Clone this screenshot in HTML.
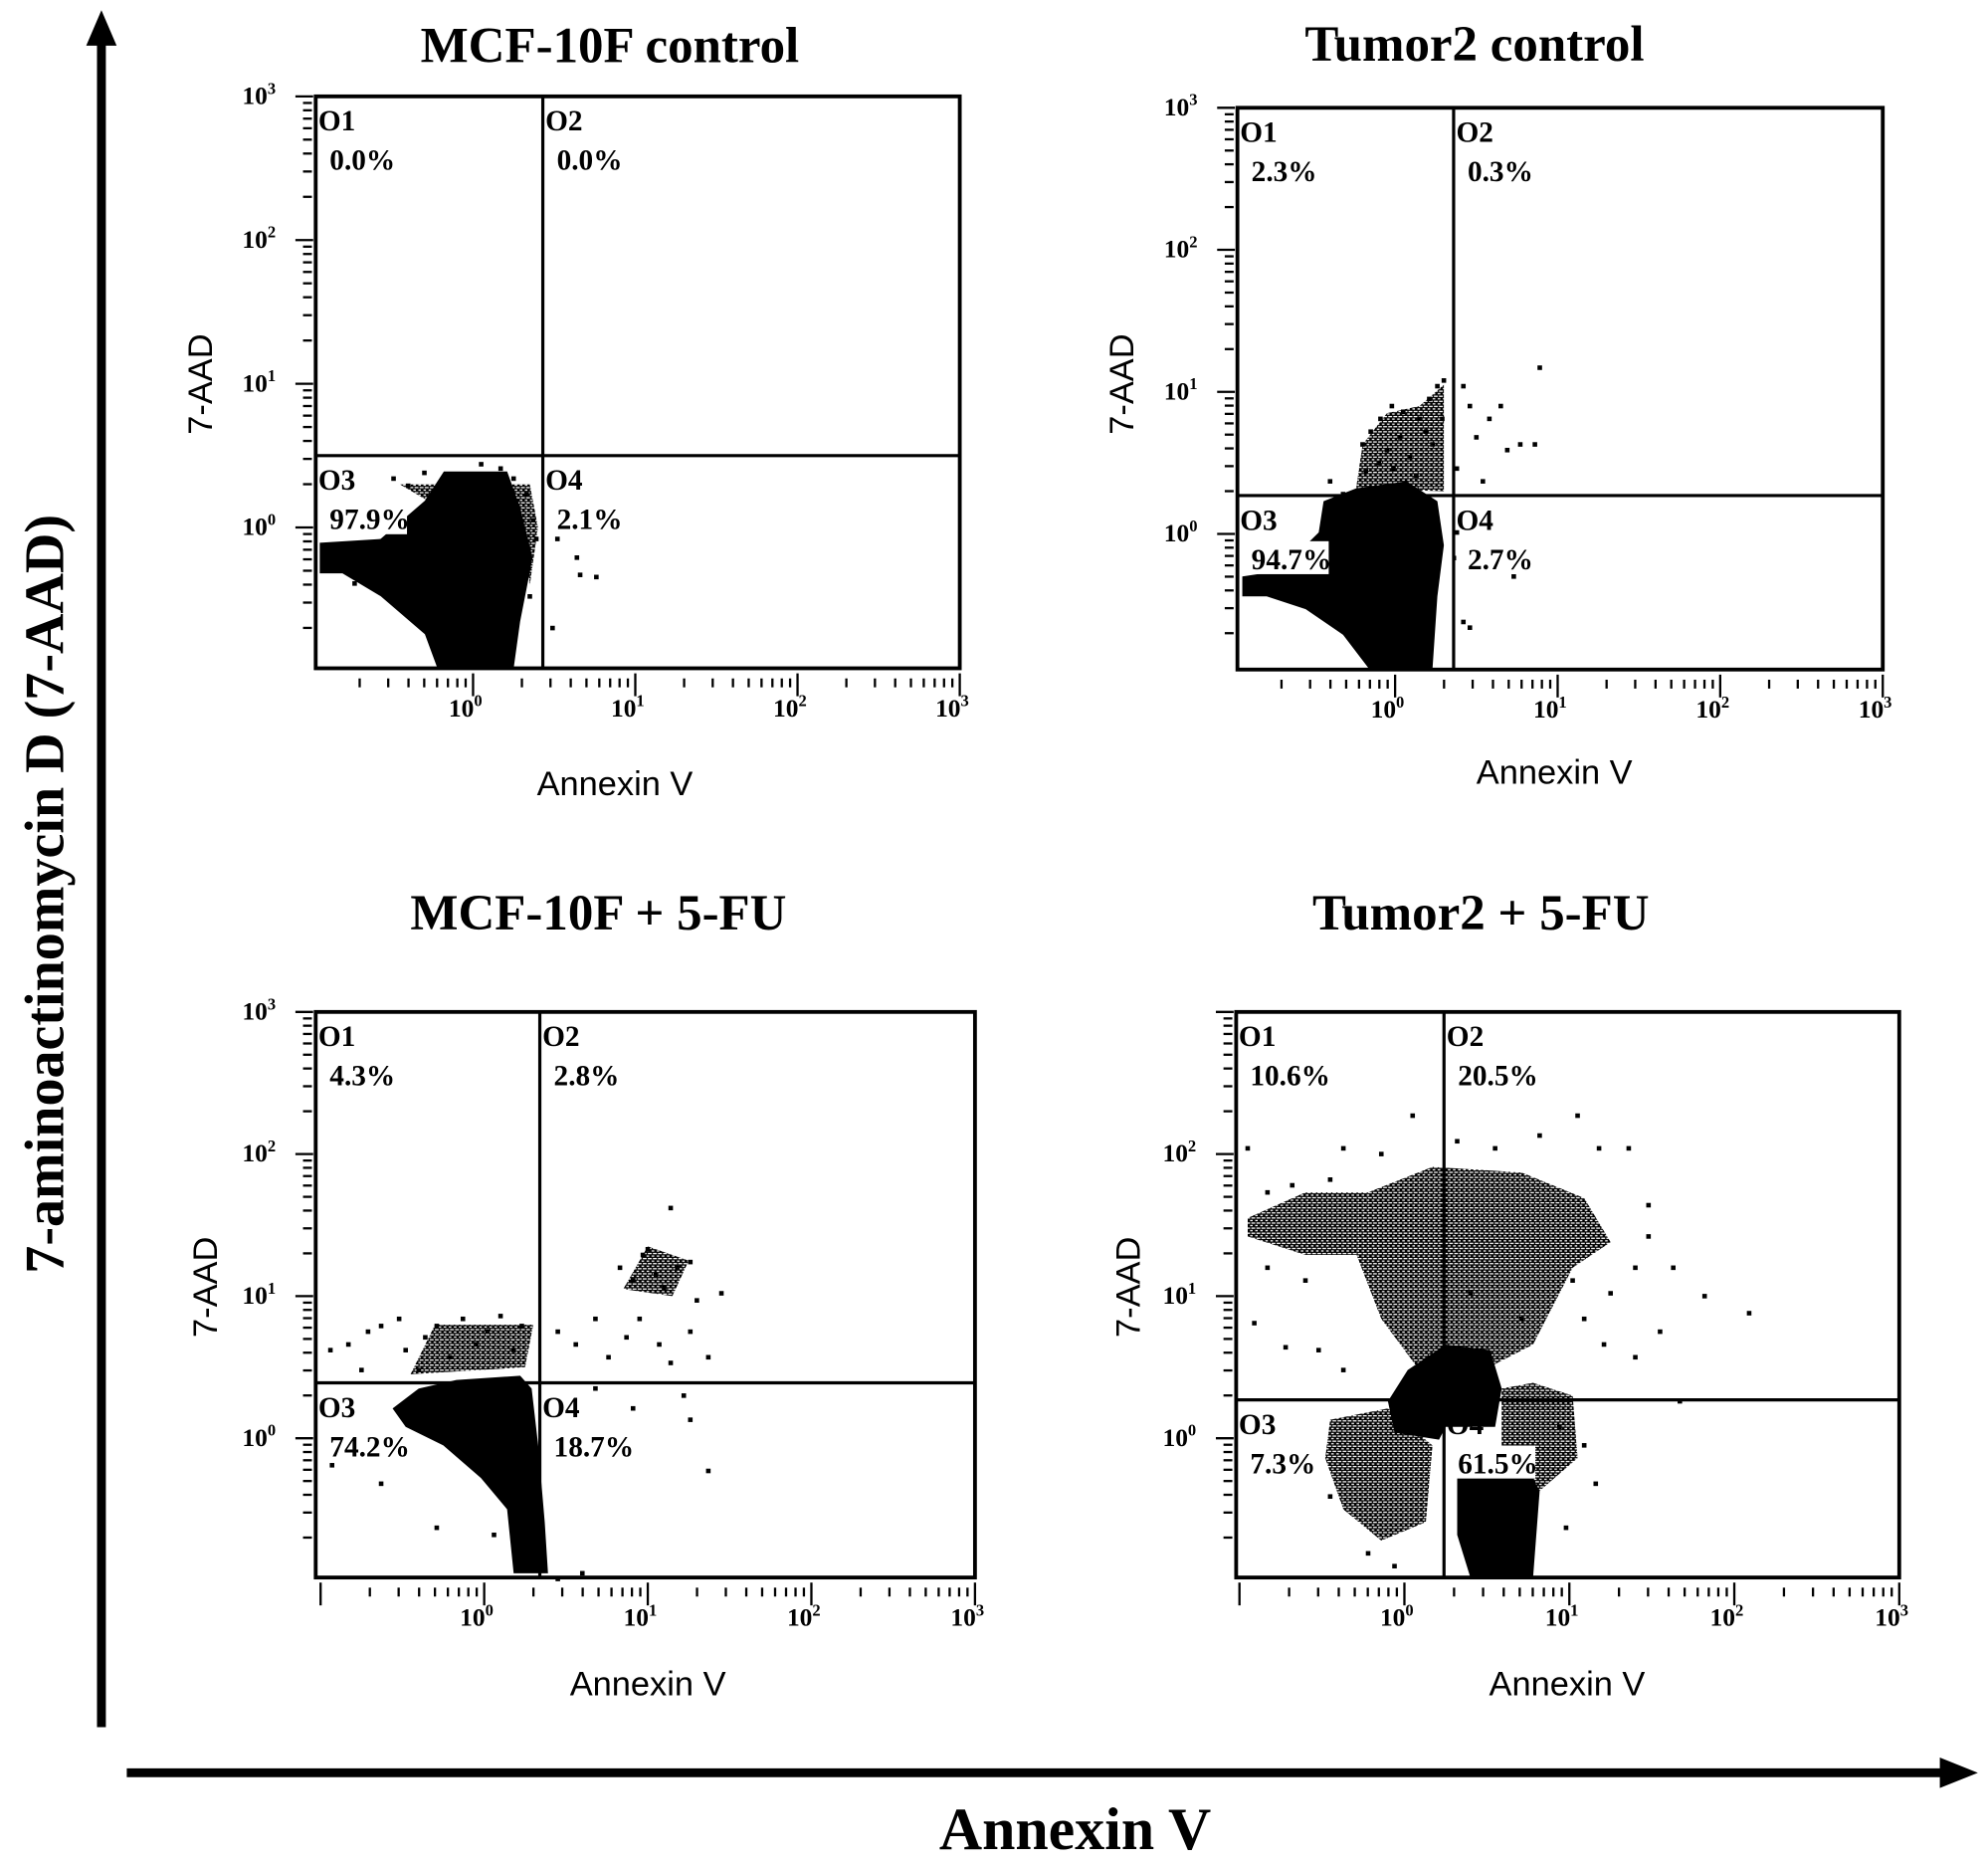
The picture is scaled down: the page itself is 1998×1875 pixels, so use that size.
<!DOCTYPE html>
<html><head><meta charset="utf-8">
<style>
html,body{margin:0;padding:0;background:#fff;}
svg{display:block;}
.t{font-family:"Liberation Serif",serif;font-weight:bold;}
.s{font-family:"Liberation Sans",sans-serif;}
</style></head>
<body>
<svg id="fig" width="1998" height="1875" viewBox="0 0 1568 1471.5" preserveAspectRatio="none" xmlns="http://www.w3.org/2000/svg">
  <rect x="0" y="0" width="1568" height="1471.5" fill="#fff"/>
  <g>
    <line x1="80" y1="1362" x2="80" y2="34" stroke="#000" stroke-width="7"/>
    <polygon points="80,8 68,36 92,36" fill="#000"/>
  </g>
  <g>
    <line x1="100" y1="1398" x2="1534" y2="1398" stroke="#000" stroke-width="7"/>
    <polygon points="1560,1398 1530,1386 1530,1410" fill="#000"/>
  </g>
  <text class="t" font-size="44" text-anchor="middle" transform="translate(50,705) rotate(-90)">7-aminoactinomycin D (7-AAD)</text>
  <text class="t" font-size="47" text-anchor="middle" x="848" y="1458">Annexin V</text>
  <defs>
    <pattern id="speck" width="4" height="4" patternUnits="userSpaceOnUse">
      <rect x="0" y="0" width="4" height="4" fill="#000"/>
      <rect x="0" y="0" width="2" height="1" fill="#fff"/>
      <rect x="2" y="2" width="2" height="1" fill="#fff"/>
      <rect x="3" y="0" width="1" height="1" fill="#fff"/>
    </pattern>
  </defs>
  <g id="panels"></g>
</svg>
<script>
// ---- data (log10 units of Annexin V and 7-AAD) ----
const titles = ["MCF-10F control", "Tumor2 control", "MCF-10F + 5-FU", "Tumor2 + 5-FU"];
const quadrantNames = ["O1", "O2", "O3", "O4"];
const p1Percents = ["0.0%", "0.0%", "97.9%", "2.1%"];
const p2Percents = ["2.3%", "0.3%", "94.7%", "2.7%"];
const p3Percents = ["4.3%", "2.8%", "74.2%", "18.7%"];
const p4Percents = ["10.6%", "20.5%", "7.3%", "61.5%"];
const gateAnnexin = [0.43, 0.36, 0.34, 0.24];
const gateAAD = [0.50, 0.27, 0.39, 0.27];
const decadeLabels = ["0", "1", "2", "3"];

const p1DotX = [0.52,0.64,0.76,0.66,0.49,-0.49,-0.40,-0.10,0.17,0.25,0.33,0.37,0.39,0.35,0.21,-0.65,-0.73,-0.30,0.05];
const p1DotY = [-0.08,-0.21,-0.345,-0.33,-0.70,0.34,0.29,0.35,0.41,0.34,0.23,0.05,-0.08,-0.48,-0.88,-0.21,-0.39,0.38,0.44];
const p1Solid = [
  [[-0.945,-0.106],[-0.57,-0.08],[-0.297,0.186],[-0.18,0.39],[0.21,0.39],[0.29,0.14],[0.367,-0.21],[0.29,-0.655],[0.25,-0.982],[-0.219,-0.982],[-0.297,-0.743],[-0.57,-0.478],[-0.805,-0.319],[-0.945,-0.319]]
];
const p1Speckle = [
  [[-0.45,0.30],[0.35,0.30],[0.40,0.00],[0.35,-0.40],[0.30,0.10],[-0.30,0.20]]
];

const p2DotX = [-0.20,-0.15,-0.09,-0.02,0.03,0.09,0.15,0.21,0.26,0.30,-0.10,-0.01,0.13,0.23,-0.18,-0.05,0.05,0.19,0.29,-0.32,-0.40,0.42,0.46,0.58,0.65,0.77,0.86,0.89,0.50,0.38,0.54,0.69,0.38,0.50,0.61,0.73,0.42,0.46,0.38];
const p2DotY = [0.63,0.72,0.81,0.90,0.68,0.54,0.81,0.95,1.04,1.08,0.50,0.46,0.41,0.63,0.44,0.59,0.86,0.72,0.81,0.28,0.37,1.04,0.90,0.81,0.90,0.63,0.63,1.17,0.68,0.46,0.37,0.59,0.01,-0.13,-0.26,-0.30,-0.62,-0.66,-0.17];
const p2Solid = [
  [[-0.94,-0.30],[-0.71,-0.26],[-0.47,0.01],[-0.44,0.23],[-0.24,0.32],[0.07,0.37],[0.26,0.23],[0.30,-0.08],[0.26,-0.44],[0.23,-0.95],[-0.16,-0.95],[-0.32,-0.71],[-0.55,-0.53],[-0.79,-0.44],[-0.94,-0.44]]
];
const p2Speckle = [
  [[-0.24,0.32],[-0.20,0.63],[-0.05,0.85],[0.15,0.90],[0.30,1.05],[0.30,0.30]]
];

const p3DotX = [-0.94,-0.83,-0.71,-0.63,-0.52,-0.48,-0.36,-0.29,-0.21,-0.13,-0.05,0.02,0.10,0.18,0.23,0.45,0.56,0.68,0.76,0.87,0.95,1.07,1.14,1.26,1.37,0.83,0.91,0.97,1.00,1.05,1.10,1.18,1.26,1.30,1.14,1.45,-0.75,-0.40,0.68,0.91,1.22,1.26,1.37,0.45,0.60,-0.93,-0.63,-0.29,0.06,-0.75];
const p3DotY = [0.62,0.66,0.75,0.79,0.84,0.62,0.71,0.79,0.57,0.84,0.66,0.75,0.86,0.62,0.79,0.75,0.66,0.84,0.57,0.71,0.84,0.66,0.53,0.75,0.57,1.20,1.11,1.29,1.33,1.15,1.06,1.20,1.24,0.97,1.62,1.02,0.48,0.48,0.35,0.21,0.30,0.13,-0.23,-0.99,-0.95,-0.19,-0.32,-0.63,-0.68,-0.05];
const p3Solid = [
  [[-0.56,0.21],[-0.40,0.35],[-0.17,0.41],[0.22,0.44],[0.29,0.35],[0.33,-0.05],[0.37,-0.59],[0.39,-0.95],[0.18,-0.95],[0.14,-0.50],[-0.02,-0.28],[-0.25,-0.05],[-0.48,0.08]]
];
const p3Speckle = [
  [[-0.45,0.45],[0.25,0.50],[0.30,0.80],[-0.30,0.80]],
  [[0.85,1.05],[1.00,1.35],[1.25,1.25],[1.15,1.00]]
];

const p4DotX = [-0.95,-0.83,-0.68,-0.45,-0.37,-0.14,0.05,0.32,0.55,0.82,1.05,1.18,1.36,1.48,1.48,1.40,1.63,1.82,2.09,1.55,1.40,1.21,1.09,1.67,-0.91,-0.72,-0.52,-0.37,1.02,1.25,0.94,1.09,1.16,0.98,-0.22,-0.06,-0.45,-0.60,-0.83,0.40,0.71];
const p4DotY = [2.04,1.73,1.78,1.82,2.04,2.00,2.27,2.09,2.04,2.13,2.27,2.04,2.04,1.64,1.42,1.20,1.20,1.00,0.88,0.75,0.57,0.66,0.84,0.26,0.81,0.64,0.62,0.48,1.11,1.02,0.08,-0.05,-0.32,-0.63,-0.81,-0.90,-0.41,1.11,1.20,1.02,0.84];
const p4Solid = [
  [[0.32,-0.28],[0.40,-0.14],[0.71,-0.14],[0.82,-0.37],[0.78,-0.98],[0.40,-0.98],[0.32,-0.68]],
  [[-0.10,0.26],[0.02,0.48],[0.25,0.66],[0.52,0.62],[0.59,0.35],[0.55,0.08],[0.25,0.08],[0.21,-0.01],[-0.06,0.04]]
];
const p4Speckle = [
  [[-0.22,1.73],[0.17,1.91],[0.71,1.87],[1.09,1.69],[1.25,1.38],[1.02,1.20],[0.78,0.66],[0.48,0.48],[0.09,0.48],[-0.14,0.84],[-0.29,1.29]],
  [[-0.95,1.55],[-0.60,1.73],[-0.22,1.73],[-0.29,1.29],[-0.60,1.29],[-0.95,1.42]],
  [[-0.45,0.13],[-0.10,0.21],[0.17,-0.05],[0.13,-0.59],[-0.14,-0.72],[-0.37,-0.50],[-0.48,-0.14]],
  [[0.78,0.39],[1.02,0.30],[1.05,-0.14],[0.82,-0.37],[0.59,-0.14],[0.59,0.35]]
];

// ---- layout (pixel geometry, not data) ----
const layouts = [
  {x0:249,x1:757,y0:76,y1:527,xmin:-0.97,xmax:3,ymin:-0.98,ymax:3,tx:481,ty:49,yt:[158,303],xt:[485,627],top3:true},
  {x0:976,x1:1485,y0:85,y1:528,xmin:-0.97,xmax:3,ymin:-0.955,ymax:3,tx:1163,ty:48,yt:[885,303],xt:[1226,618],top3:true},
  {x0:249,x1:769,y0:798,y1:1244,xmin:-1.03,xmax:3,ymin:-0.98,ymax:3,tx:472,ty:733,yt:[162,1015],xt:[511,1337],top3:true},
  {x0:975,x1:1498,y0:798,y1:1244,xmin:-1.02,xmax:3,ymin:-0.98,ymax:3,tx:1168,ty:733,yt:[890,1015],xt:[1236,1337],top3:false}
];
const dotXs = [p1DotX,p2DotX,p3DotX,p4DotX];
const dotYs = [p1DotY,p2DotY,p3DotY,p4DotY];
const solids = [p1Solid,p2Solid,p3Solid,p4Solid];
const speckles = [p1Speckle,p2Speckle,p3Speckle,p4Speckle];
const percents = [p1Percents,p2Percents,p3Percents,p4Percents];

const NS = "http://www.w3.org/2000/svg";
function mk(tag, attrs, parent) {
  const e = document.createElementNS(NS, tag);
  for (const k in attrs) e.setAttribute(k, attrs[k]);
  parent.appendChild(e);
  return e;
}
const root = document.getElementById("panels");

layouts.forEach(function (L, i) {
  const g = mk("g", {}, root);
  
  
  const sx = v => L.x0 + (v - L.xmin) / (L.xmax - L.xmin) * (L.x1 - L.x0);
  const sy = v => L.y1 - (v - L.ymin) / (L.ymax - L.ymin) * (L.y1 - L.y0);

  const title = mk("text", {x:L.tx, y:L.ty, "font-size":40, "text-anchor":"middle", class:"t"}, g);
  title.textContent = titles[i];
  
  

  const yl = mk("text", {"font-size":27, "text-anchor":"middle", class:"s", transform:"translate(" + (L.yt[0] + 9) + "," + L.yt[1] + ") rotate(-90)"}, g);
  yl.textContent = "7-AAD";
  
  
  const xl = mk("text", {x:L.xt[0], y:L.xt[1], "font-size":27, "text-anchor":"middle", class:"s"}, g);
  xl.textContent = "Annexin V";
  
  

  const marks = mk("g", {}, g);
  
  
  speckles[i].forEach(function (poly) {
    const p = mk("polygon", {points: poly.map(q => sx(q[0]) + "," + sy(q[1])).join(" "), fill:"url(#speck)"}, marks);
    
    
  });
  solids[i].forEach(function (poly) {
    const p = mk("polygon", {points: poly.map(q => sx(q[0]) + "," + sy(q[1])).join(" "), fill:"#000"}, marks);
    
    
  });
  dotXs[i].forEach(function (vx, k) {
    const d = mk("rect", {x: sx(vx) - 1.8, y: sy(dotYs[i][k]) - 1.8, width:3.6, height:3.6, fill:"#000"}, marks);
    
    
  });

  const box = mk("rect", {x:L.x0, y:L.y0, width:L.x1 - L.x0, height:L.y1 - L.y0, fill:"none", stroke:"#000", "stroke-width":3}, g);
  
  
  const gx = sx(gateAnnexin[i]), gy = sy(gateAAD[i]);
  const vg = mk("line", {x1:gx, y1:L.y0, x2:gx, y2:L.y1, stroke:"#000", "stroke-width":2.5}, g);
  
  
  const hg = mk("line", {x1:L.x0, y1:gy, x2:L.x1, y2:gy, stroke:"#000", "stroke-width":2.5}, g);
  
  

  const qpos = [[L.x0, L.y0], [gx, L.y0], [L.x0, gy], [gx, gy]];
  qpos.forEach(function (q, k) {
    const bg = mk("rect", {x:q[0] + 2, y:q[1] + 36, width: percents[i][k].length * 12 + 10, height:26, fill:"#fff"}, g);
    
    
    const n = mk("text", {x:q[0] + 2, y:q[1] + 27, "font-size":23, class:"t", fill:"#000"}, g);
    n.textContent = quadrantNames[k];
    
    
    const pc = mk("text", {x:q[0] + 11, y:q[1] + 58, "font-size":23, class:"t", fill:"#000"}, g);
    pc.textContent = percents[i][k];
    
    
  });

  const tg = mk("g", {stroke:"#000", "stroke-width":1.8}, g);
  
  
  for (let d = -1; d <= 3; d++) {
    for (let m = 1; m <= 9; m++) {
      const v = d + Math.log10(m);
      if (v >= L.xmin - 1e-6 && v <= L.xmax + 1e-6) {
        const X = sx(v);
        if (m === 1) mk("line", {x1:X, y1:L.y1 + 4, x2:X, y2:L.y1 + 22}, tg);
        else mk("line", {x1:X, y1:L.y1 + 8, x2:X, y2:L.y1 + 15}, tg);
      }
      if (v >= L.ymin - 1e-6 && v <= L.ymax + 1e-6) {
        const Y = sy(v);
        if (m === 1) mk("line", {x1:L.x0 - 16, y1:Y, x2:L.x0 - 2, y2:Y}, tg);
        else mk("line", {x1:L.x0 - 10, y1:Y, x2:L.x0 - 3, y2:Y}, tg);
      }
    }
  }
  decadeLabels.forEach(function (lab, k) {
    const v = k;
    const xt = mk("text", {x:sx(v) - 6, y:L.y1 + 38, "font-size":20, "text-anchor":"middle", class:"t"}, g);
    xt.innerHTML = '10<tspan dy="-8" font-size="13">' + lab + '</tspan>';
    
    
    if (k < 3 || L.top3) {
      const yt = mk("text", {x:L.x0 - 58, y:sy(v) + 6, "font-size":20, class:"t"}, g);
      yt.innerHTML = '10<tspan dy="-8" font-size="13">' + lab + '</tspan>';
      
      
    }
  });
});
</script>
</body></html>
